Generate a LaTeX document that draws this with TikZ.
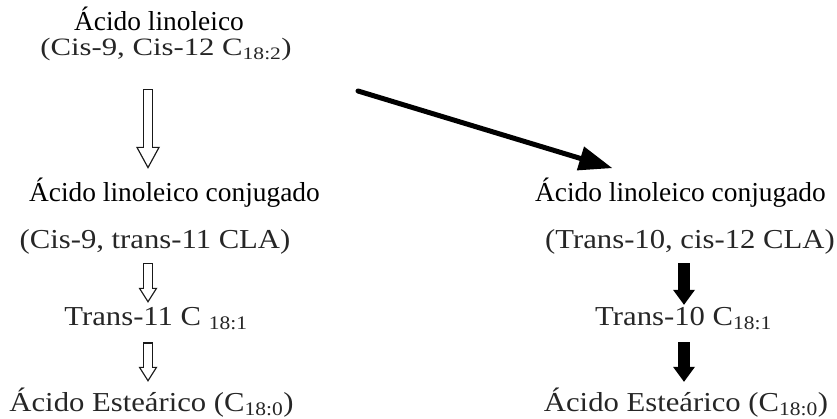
\documentclass[tikz,border=0pt]{standalone}
\usepackage{fontspec}
\setmainfont{Liberation Serif}
\newfontfamily\widefont[FakeStretch=1.12]{Liberation Serif}
\newfontfamily\widerfont[FakeStretch=1.23]{Liberation Serif}
\usepackage{tikz}
\usetikzlibrary{arrows.meta,calc,positioning}
\tikzset{%
	acid/.style       = {anchor=base, inner sep=0pt, text height=20pt, text depth=6pt, font=\fontsize{27.4}{32}\selectfont},
	formula/.style    = {acid, font=\widefont\fontsize{27.4}{32}\selectfont, text=black!85},
	hollowout/.style  = {line width=10.6pt, black!90},
	hollowin/.style   = {line width=8pt, white},
	blockarrow/.style = {line width=12pt, black, -{Triangle[length=15pt,width=22pt,line width=0pt]}},
	pathway/.style    = {line width=5pt, black, line cap=round, -{Triangle[length=33pt,width=25pt,line width=0pt]}},
}

\begin{document}
\begin{tikzpicture}[x=1pt,y=-1pt]
	\useasboundingbox (0,0) rectangle (837,419);
	\coordinate (lx) at (148,0);  % left column
	\coordinate (rx) at (684,0);  % right column
	\node[acid, text depth=2pt] (linoleico) at (159,31)  {Ácido linoleico};
	\node[formula, text height=17pt, font=\widerfont\fontsize{25}{30}\selectfont] (cis) at (166,56)  {(Cis-9, Cis-12 C\textsubscript{18:2})};
	\node[acid]    (claA)      at (174.5,202) {Ácido linoleico conjugado};
	\node[formula] (cisA)      at (155,249) {(Cis-9, trans-11 CLA)};
	\node[formula] (transA)    at (156,325) {Trans-11 C \textsubscript{18:1}};
	\node[formula] (stearA)    at (151.5,411) {Ácido Esteárico (C\textsubscript{18:0})};
	\node[acid]    (claB)      at (680.5,202) {Ácido linoleico conjugado};
	\node[formula] (transB)    at (690,249) {(Trans-10, cis-12 CLA)};
	\node[formula] (tenB)      at (683.5,325) {Trans-10 C\textsubscript{18:1}};
	\node[formula] (stearB)    at (686,411) {Ácido Esteárico (C\textsubscript{18:0})};
	% hollow arrows
	\draw[hollowout, shorten <=27pt, shorten >=13pt, -{Triangle[length=22pt,width=24pt,line width=0pt]}] (lx |- cis.south) -- (lx |- claA.north);
	\draw[hollowin, shorten <=28.3pt, shorten >=15.7pt, -{Triangle[length=18pt,width=19.6pt,line width=0pt]}] (lx |- cis.south) -- (lx |- claA.north);
	\draw[hollowout, shorten <=8pt, shorten >=2pt, -{Triangle[length=15pt,width=19pt,line width=0pt]}] (lx |- cisA.south) -- (lx |- transA.north);
	\draw[hollowin, shorten <=9.3pt, shorten >=4.4pt, -{Triangle[length=11.3pt,width=14.3pt,line width=0pt]}] (lx |- cisA.south) -- (lx |- transA.north);
	\draw[hollowout, shorten <=11pt, shorten >=9pt, -{Triangle[length=15pt,width=19pt,line width=0pt]}] (lx |- transA.south) -- (lx |- stearA.north);
	\draw[hollowin, shorten <=12.3pt, shorten >=11.4pt, -{Triangle[length=11.3pt,width=14.3pt,line width=0pt]}] (lx |- transA.south) -- (lx |- stearA.north);
	% solid arrows
	\draw[blockarrow, shorten <=8pt, shorten >=0pt] (rx |- transB.south) -- (rx |- tenB.north);
	\draw[blockarrow, shorten <=11pt, shorten >=9pt] (rx |- tenB.south) -- (rx |- stearB.north);
	\coordinate (dstart) at (358,91);
	\coordinate (dend) at (612,168);
	\draw[pathway] (dstart) -- (dend);
\end{tikzpicture}
\end{document}
